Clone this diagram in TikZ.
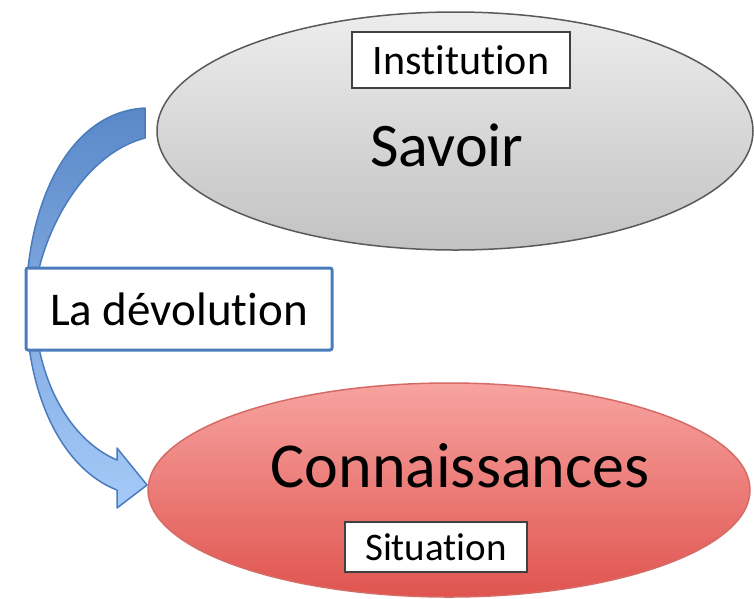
\documentclass[tikz,border=0pt]{standalone}
\usepackage{fontspec}
\setmainfont[Ligatures=NoCommon]{Carlito}
\usetikzlibrary{shapes.geometric}
\definecolor{savoirhaut}{HTML}{EDEDED}
\definecolor{savoirbas}{HTML}{C2C2C2}
\definecolor{connhaut}{HTML}{F7A3A0}
\definecolor{connbas}{HTML}{E0544F}
\definecolor{connbord}{HTML}{D56B67}
\definecolor{flechehaut}{HTML}{5A88C8}
\definecolor{flechemilieu}{HTML}{4B7DC0}
\definecolor{flechebas}{HTML}{A6CBF9}
\definecolor{flechebord}{HTML}{4A7CBD}
\begin{document}
\begin{tikzpicture}[x=1pt,y=-1pt,
    bulle/.style={ellipse,inner sep=0pt,line width=1.5pt},
    cadre/.style={draw=black!75,fill=white,line width=1.8pt,inner sep=0pt},
    devol/.style={draw=flechebord,fill=white,line width=3pt,rounded corners=2pt,inner sep=0pt}]
  \useasboundingbox (0,0) rectangle (754,598);
  % les deux bulles
  \node[bulle,draw=black!65,top color=savoirhaut,bottom color=savoirbas,
        minimum width=596pt,minimum height=238pt] (savoir) at (455,131) {};
  \node[bulle,draw=connbord,top color=connhaut,bottom color=connbas,
        minimum width=602pt,minimum height=214pt] (conn) at (449,490) {};
  \node (savoirtxt) at (447,145) {\fontsize{62}{70}\selectfont Savoir};
  \node (conntxt) at (460,466) {\fontsize{64}{72}\selectfont Connaissances};
  \node[cadre,minimum width=218pt,minimum height=56pt] (institution) at (461,60)
    {\fontsize{42}{50}\selectfont Institution};
  \node[cadre,minimum width=182pt,minimum height=50pt] (situation) at (436,547)
    {\fontsize{39}{46}\selectfont Situation};
  % fleche courbe
  \filldraw[draw=flechebord,line width=1.5pt,line join=round,
            top color=flechehaut,middle color=flechemilieu,bottom color=flechebas]
    (145,108) .. controls (70,112) and (28,200) .. (26,300)
    .. controls (26,400) and (65,470) .. (117,490)
    -- (117,508) -- (147,485) -- (117,448) -- (117,460)
    .. controls (70,440) and (35,380) .. (34,300)
    .. controls (38,240) and (80,155) .. (145,138) -- cycle;
  \node[devol,minimum width=306pt,minimum height=82pt] (devolution) at (179,309)
    {\fontsize{47}{56}\selectfont La dévolution};
\end{tikzpicture}
\end{document}
